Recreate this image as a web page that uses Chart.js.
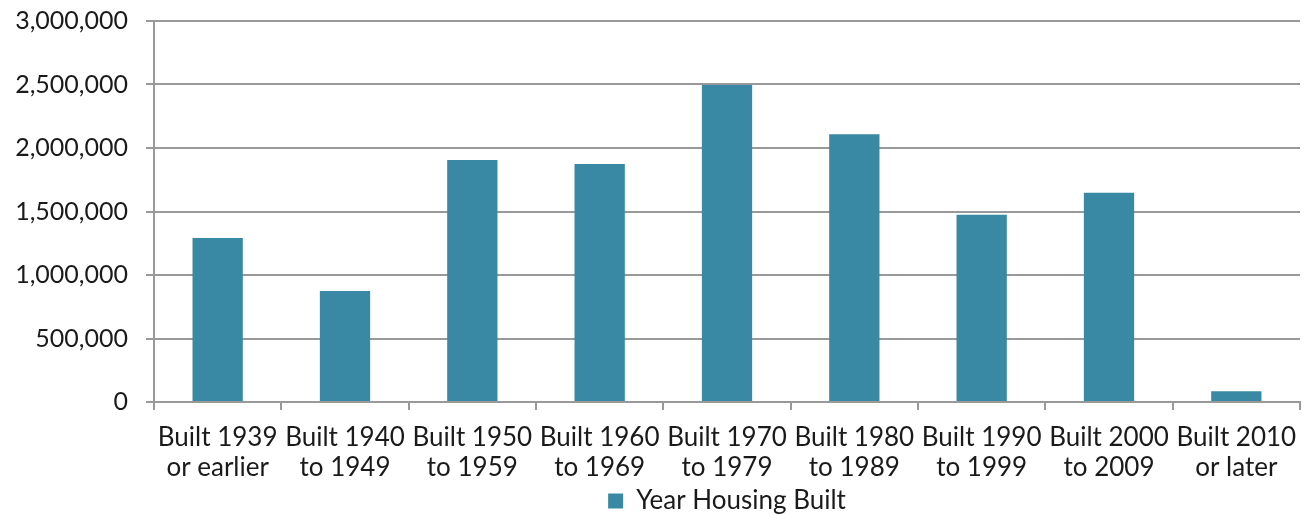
<!DOCTYPE html>
<html>
<head>
<meta charset="utf-8">
<script src="https://cdn.jsdelivr.net/npm/chart.js@4"></script>
<style>
html,body{margin:0;padding:0;background:#fff;}
#wrap{width:1304px;height:514px;position:relative;}
</style>
</head>
<body>
<div id="wrap"><canvas id="c" width="1304" height="514"></canvas></div>
<script>
const categories = [
  ["Built 1939","or earlier"],
  ["Built 1940","to 1949"],
  ["Built 1950","to 1959"],
  ["Built 1960","to 1969"],
  ["Built 1970","to 1979"],
  ["Built 1980","to 1989"],
  ["Built 1990","to 1999"],
  ["Built 2000","to 2009"],
  ["Built 2010","or later"]
];
const seriesName = "Year Housing Built";
const housingUnits = [1292000, 875000, 1905000, 1875000, 2497000, 2108000, 1475000, 1648000, 85000];
const yTickMin = 0, yTickMax = 3000000, yTickStep = 500000;

const FONT = "Lato, 'Noto Sans', sans-serif";
const chart = new Chart(document.getElementById('c'), {
  type: 'bar',
  data: {
    labels: categories,
    datasets: [{
      label: seriesName,
      data: housingUnits,
      backgroundColor: '#3a89a4',
      borderWidth: 0,
      categoryPercentage: 1.0,
      barPercentage: 0.395
    }]
  },
  options: {
    responsive: false,
    animation: false,
    layout: { padding: { top: 0, right: 0, left: 0, bottom: -10 } },
    plugins: {
      legend: {
        position: 'bottom',
        fullSize: false,
        labels: { font: { family: FONT, size: 26 }, color: '#1a1a1a', boxWidth: 15, boxHeight: 15, padding: 0 }
      },
      tooltip: { enabled: false }
    },
    scales: {
      x: {
        grid: { display: true, drawOnChartArea: false, drawTicks: true, tickLength: 8, color: '#999999', lineWidth: 2, offset: true },
        border: { color: '#999999', width: 2 },
        ticks: { font: { family: FONT, size: 26, lineHeight: 1.15 }, color: '#1a1a1a', maxRotation: 0, autoSkip: false, padding: 13 },
        afterFit: s => { s.height = 86; s.paddingRight = 4; }
      },
      y: {
        min: yTickMin, max: yTickMax,
        grid: { color: '#999999', lineWidth: 2, tickLength: 8, drawTicks: true },
        border: { color: '#999999', width: 2 },
        ticks: { stepSize: yTickStep, font: { family: FONT, size: 25 }, color: '#1a1a1a', padding: 18,
          callback: v => v.toLocaleString('en-US') },
        afterFit: s => { s.width = 154; s.paddingTop = 21; s.paddingBottom = 8; }
      }
    }
  }
});
</script>
</body>
</html>
